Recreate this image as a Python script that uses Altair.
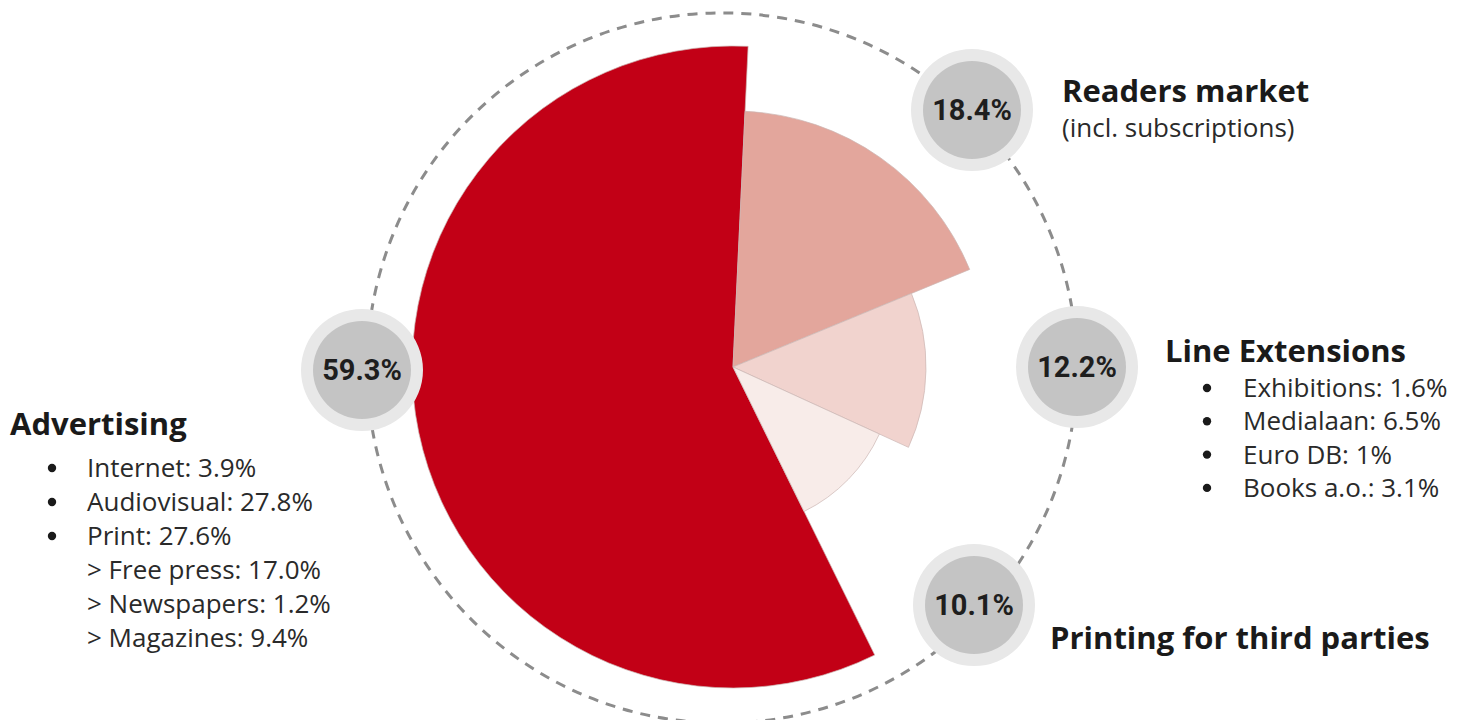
import math
import altair as alt
import pandas as pd

# ---- data ----
categories = ["Advertising", "Readers market", "Line Extensions", "Printing for third parties"]
shares = [59.3, 18.4, 12.2, 10.1]
stack_order = [3, 0, 1, 2]
bubble_labels = ["59.3%", "18.4%", "12.2%", "10.1%"]
slice_colors = ["#c20016", "#e3a69c", "#f1d3ce", "#f8ece9"]

readers_note = ["(incl. subscriptions)"]
line_ext_items = ["Exhibitions: 1.6%", "Medialaan: 6.5%", "Euro DB: 1%", "Books a.o.: 3.1%"]
advertising_items = ["Internet: 3.9%", "Audiovisual: 27.8%", "Print: 27.6%"]
print_sub_items = ["> Free press: 17.0%", "> Newspapers: 1.2%", "> Magazines: 9.4%"]

# ---- layout (plot-area pixels) ----
W, H = 1445, 712
PIE_CX, PIE_CY = 725, 359
RING_CX, RING_CY, RING_R = 714, 360, 355
# angular layout of the rose (cumulative share -> angle, degrees clockwise from 12 o'clock)
theta_domain = [0, 18.4, 30.6, 40.7, 100]
theta_range = [math.radians(a) for a in (2.7, 67.6, 114.6, 153.8, 362.7)]
bubble_xy = [(354, 362), (964, 102), (1069, 359), (966, 597)]

FONT = "Open Sans"
NUM_FONT = "Roboto"

slices = pd.DataFrame({"category": categories, "share": shares, "ord": stack_order})

pie = alt.Chart(slices).mark_arc(stroke="#cbb6b3", strokeWidth=0.7).encode(
    theta=alt.Theta("share:Q", stack=True,
                    scale=alt.Scale(type="linear", domain=theta_domain, range=theta_range)),
    radius=alt.Radius("share:Q", scale=alt.Scale(type="linear", zero=False,
                                                  domain=[10.1, 12.2, 18.4, 59.3],
                                                  range=[161, 193, 256, 321])),
    radius2=alt.value(0),
    color=alt.Color("category:N", scale=alt.Scale(domain=categories, range=slice_colors), legend=None),
    order=alt.Order("ord:Q"),
    x=alt.value(PIE_CX),
    y=alt.value(PIE_CY),
)

ring = alt.Chart(pd.DataFrame({"k": [0]})).mark_point(
    shape="circle", filled=False, size=(2 * RING_R) ** 2, stroke="#8c8c8c",
    strokeWidth=3, strokeDash=[10, 8], opacity=1
).encode(x=alt.value(RING_CX), y=alt.value(RING_CY))

bub = pd.DataFrame({
    "label": bubble_labels,
    "x": [p[0] for p in bubble_xy],
    "y": [p[1] for p in bubble_xy],
})
X = alt.X("x:Q", scale=None, axis=None)
Y = alt.Y("y:Q", scale=None, axis=None)

outer = alt.Chart(bub).mark_circle(size=122 ** 2, color="#e8e8e8", opacity=1).encode(x=X, y=Y)
inner = alt.Chart(bub).mark_circle(size=98 ** 2, color="#c4c4c4", opacity=1).encode(x=X, y=Y)
nums = alt.Chart(bub).mark_text(font=NUM_FONT, fontWeight="bold", fontSize=29, color="#1e1e1e",
                                align="center", baseline="middle", dy=1).encode(x=X, y=Y, text="label:N")

# headings
heads = pd.DataFrame({
    "text": ["Readers market", "Line Extensions", "Advertising", "Printing for third parties"],
    "x": [1054, 1157, 2, 1042],
    "y": [94, 354, 427, 641],
})
head_layer = alt.Chart(heads).mark_text(font=FONT, fontWeight="bold", fontSize=31, color="#1a1a1a",
                                        align="left", baseline="alphabetic").encode(x=X, y=Y, text="text:N")

# regular items
item_rows = []
item_rows.append({"text": readers_note[0], "x": 1054, "y": 129})
for i, t in enumerate(line_ext_items):
    item_rows.append({"text": t, "x": 1235, "y": 389 + 33.3 * i})
for i, t in enumerate(advertising_items + print_sub_items):
    item_rows.append({"text": t, "x": 79, "y": 469 + 34 * i})
items = pd.DataFrame(item_rows)
item_layer = alt.Chart(items).mark_text(font=FONT, fontSize=26, color="#2a2a2a",
                                        align="left", baseline="alphabetic").encode(x=X, y=Y, text="text:N")

bullet_rows = []
for i in range(len(line_ext_items)):
    bullet_rows.append({"x": 1199, "y": 389 + 33.3 * i - 9})
for i in range(len(advertising_items)):
    bullet_rows.append({"x": 44, "y": 469 + 34 * i - 9})
bullets = pd.DataFrame(bullet_rows)
bullet_layer = alt.Chart(bullets).mark_circle(size=70, color="#1a1a1a", opacity=1).encode(x=X, y=Y)

chart = alt.layer(ring, pie, outer, inner, nums, head_layer, item_layer, bullet_layer).properties(
    width=W, height=H, padding=0, background="white",
    autosize=alt.AutoSizeParams(type="none")
).configure_view(stroke=None)

chart.save("out.html", embed_options={"renderer": "svg", "actions": False})
